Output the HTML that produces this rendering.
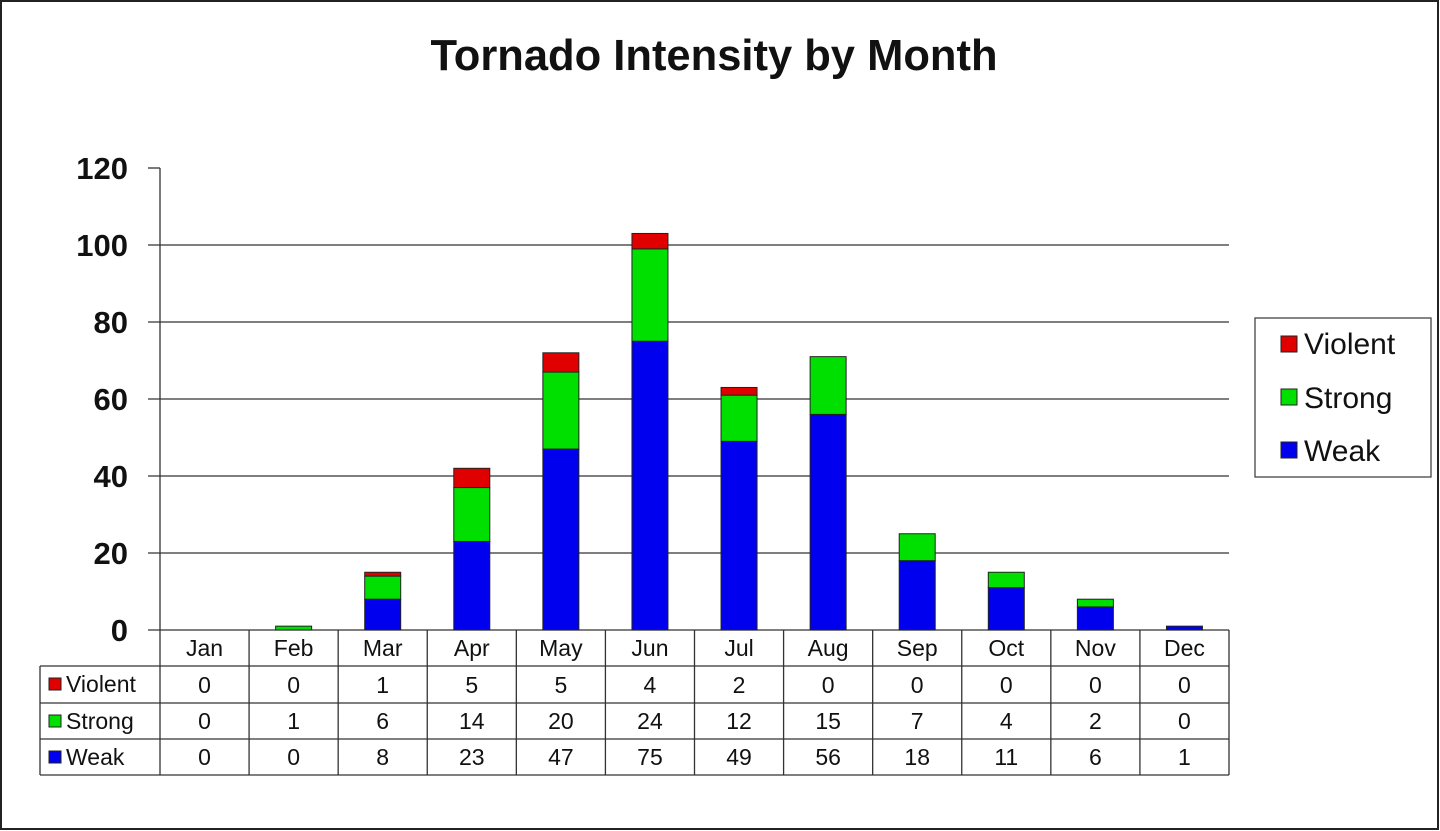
<!DOCTYPE html>
<html><head><meta charset="utf-8"><style>
html,body{margin:0;padding:0;background:#fff}
svg{display:block}
text{font-family:"Liberation Sans",Arial,sans-serif;fill:#111}
</style></head><body>
<svg width="1440" height="831" viewBox="0 0 1440 831" xmlns="http://www.w3.org/2000/svg">
<rect x="1" y="1" width="1437" height="828" fill="#fff" stroke="#222" stroke-width="2"/>
<text x="714" y="70" font-size="43.5" font-weight="bold" text-anchor="middle">Tornado Intensity by Month</text>
<g stroke="#333" stroke-width="1.3">
<line x1="148" y1="168" x2="160" y2="168"/>
<line x1="148" y1="245" x2="1229" y2="245"/>
<line x1="148" y1="322" x2="1229" y2="322"/>
<line x1="148" y1="399" x2="1229" y2="399"/>
<line x1="148" y1="476" x2="1229" y2="476"/>
<line x1="148" y1="553" x2="1229" y2="553"/>
<line x1="148" y1="630" x2="1229" y2="630"/>
<line x1="160" y1="168" x2="160" y2="630"/>
</g>
<g font-size="31" font-weight="bold" text-anchor="end">
<text x="128" y="179">120</text><text x="128" y="256">100</text><text x="128" y="333">80</text>
<text x="128" y="410">60</text><text x="128" y="487">40</text><text x="128" y="564">20</text><text x="128" y="641">0</text>
</g>
<g id="bars" stroke="#222" stroke-width="1"></g>
<g id="table"></g>
<rect x="1255" y="318" width="176" height="159" fill="#fff" stroke="#444" stroke-width="1.3"/>
<rect x="1281" y="336" width="16" height="16" fill="#e00000" stroke="#222"/>
<rect x="1281" y="389" width="16" height="16" fill="#00e000" stroke="#222"/>
<rect x="1281" y="442" width="16" height="16" fill="#0000ee" stroke="#222"/>
<g font-size="30"><text x="1304" y="354">Violent</text><text x="1304" y="408">Strong</text><text x="1304" y="461">Weak</text></g>
<script>
var months=["Jan","Feb","Mar","Apr","May","Jun","Jul","Aug","Sep","Oct","Nov","Dec"];
var V=[0,0,1,5,5,4,2,0,0,0,0,0],S=[0,1,6,14,20,24,12,15,7,4,2,0],W=[0,0,8,23,47,75,49,56,18,11,6,1];
var ns="http://www.w3.org/2000/svg";
function el(p,t,a,txt){var e=document.createElementNS(ns,t);for(var k in a)e.setAttribute(k,a[k]);if(txt!=null)e.textContent=txt;p.appendChild(e);return e;}
var bars=document.getElementById("bars"),tb=document.getElementById("table");
var x0=160,cw=(1229-160)/12,k=3.85;
for(var i=0;i<12;i++){
 var cx=x0+cw*(i+0.5),bx=cx-18,base=630;
 [[W[i],"#0000ee"],[S[i],"#00e000"],[V[i],"#e00000"]].forEach(function(s){
  if(s[0]>0){var h=s[0]*k;el(bars,"rect",{x:bx,y:base-h,width:36,height:h,fill:s[1]});base-=h;}
 });
 el(tb,"text",{x:cx,y:656,"font-size":23,"text-anchor":"middle"},months[i]);
 el(tb,"text",{x:cx,y:693,"font-size":23,"text-anchor":"middle"},V[i]);
 el(tb,"text",{x:cx,y:729,"font-size":23,"text-anchor":"middle"},S[i]);
 el(tb,"text",{x:cx,y:765,"font-size":23,"text-anchor":"middle"},W[i]);
}
var L={stroke:"#333","stroke-width":1.3};
for(var i=0;i<=12;i++){var x=x0+cw*i;el(tb,"line",Object.assign({x1:x,y1:630,x2:x,y2:775},L));}
el(tb,"line",Object.assign({x1:40,y1:666,x2:1229,y2:666},L));
el(tb,"line",Object.assign({x1:40,y1:703,x2:1229,y2:703},L));
el(tb,"line",Object.assign({x1:40,y1:739,x2:1229,y2:739},L));
el(tb,"line",Object.assign({x1:40,y1:775,x2:1229,y2:775},L));
el(tb,"line",Object.assign({x1:40,y1:666,x2:40,y2:775},L));
[["Violent","#e00000",692],["Strong","#00e000",729],["Weak","#0000ee",765]].forEach(function(r){
 el(tb,"rect",{x:49,y:r[2]-14,width:12,height:12,fill:r[1],stroke:"#222"});
 el(tb,"text",{x:66,y:r[2],"font-size":23},r[0]);
});
</script>
</svg>
</body></html>
